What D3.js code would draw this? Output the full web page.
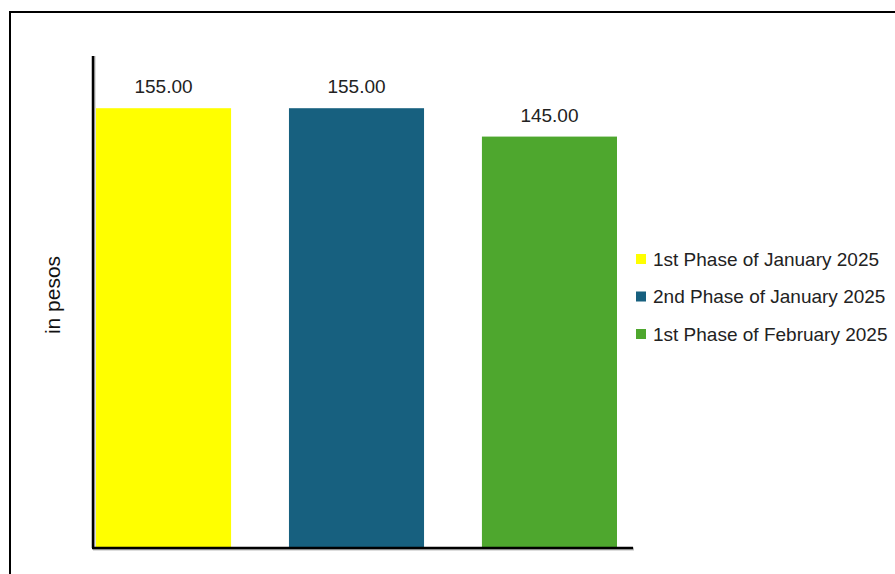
<!DOCTYPE html>
<html><head><meta charset="utf-8">
<script src="https://cdn.jsdelivr.net/npm/d3@7"></script>
<style>html,body{margin:0;padding:0;background:#fff;}</style>
</head><body>
<script>
const categories = ["1st Phase of January 2025", "2nd Phase of January 2025", "1st Phase of February 2025"];
const values = [155.00, 155.00, 145.00];
const colors = ["#FFFF00", "#17607F", "#4EA72E"];
const yLabel = "in pesos";

const W = 895, H = 574;
const svg = d3.select("body").append("svg").attr("width", W).attr("height", H);

svg.append("rect").attr("x", 10).attr("y", 12).attr("width", 900).attr("height", 600)
  .attr("fill", "#fff").attr("stroke", "#000").attr("stroke-width", 2);

const font = "'Liberation Sans', Arial, sans-serif";
const baseY = 548, topY = 56;
const y = d3.scaleLinear().domain([0, 173.4]).range([baseY, topY]);
const x = d3.scaleBand().domain(categories).range([96, 617]).paddingInner(0.3).paddingOuter(0);

svg.selectAll("rect.bar").data(categories).enter().append("rect").attr("class", "bar")
  .attr("x", d => x(d)).attr("width", x.bandwidth())
  .attr("y", (d, i) => y(values[i])).attr("height", (d, i) => baseY - y(values[i]))
  .attr("fill", (d, i) => colors[i]);

svg.selectAll("text.val").data(categories).enter().append("text").attr("class", "val")
  .attr("x", d => x(d) + x.bandwidth() / 2).attr("y", (d, i) => y(values[i]) - 15)
  .attr("text-anchor", "middle").attr("font-family", font).attr("font-size", 19).attr("fill", "#222")
  .text((d, i) => d3.format(".2f")(values[i]));

const axisG = svg.append("g");
axisG.append("line").attr("x1", 94).attr("x2", 94).attr("y1", topY).attr("y2", baseY + 1)
  .attr("stroke", "#bbb").attr("stroke-width", 3);
axisG.append("line").attr("x1", 93).attr("x2", 634).attr("y1", baseY + 1).attr("y2", baseY + 1)
  .attr("stroke", "#bbb").attr("stroke-width", 3);
axisG.append("line").attr("x1", 93).attr("x2", 93).attr("y1", topY).attr("y2", baseY)
  .attr("stroke", "#000").attr("stroke-width", 2.5);
axisG.append("line").attr("x1", 92).attr("x2", 633).attr("y1", baseY).attr("y2", baseY)
  .attr("stroke", "#000").attr("stroke-width", 2.5);

svg.append("text").attr("transform", "translate(60,295) rotate(-90)")
  .attr("text-anchor", "middle").attr("font-family", font).attr("font-size", 21).attr("fill", "#111")
  .text(yLabel);

const legend = svg.append("g");
const rowY = [259, 296.5, 334];
categories.forEach((c, i) => {
  legend.append("rect").attr("x", 636).attr("y", rowY[i] - 5).attr("width", 10).attr("height", 10).attr("fill", colors[i]);
  legend.append("text").attr("x", 653).attr("y", rowY[i]).attr("dy", "0.35em")
    .attr("font-family", font).attr("font-size", 19).attr("fill", "#222").text(c);
});
</script>
</body></html>
